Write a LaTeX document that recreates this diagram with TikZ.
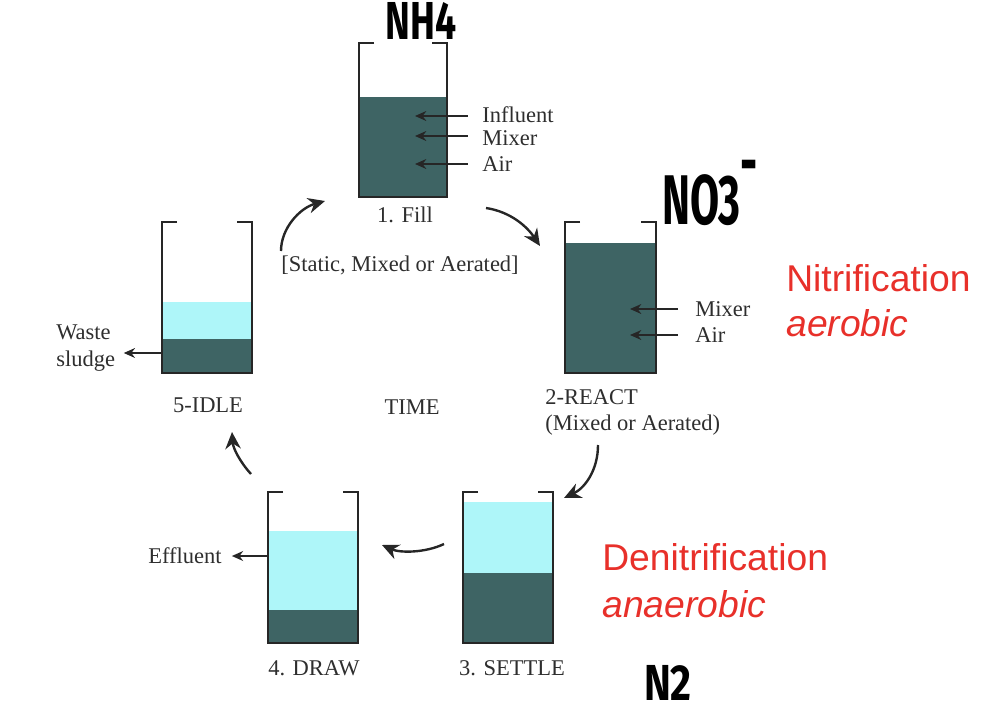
\documentclass[tikz,border=0pt]{standalone}
\usepackage{fontspec}
\setmainfont{Liberation Serif}
\newfontfamily\redsans{Liberation Sans}
\newfontfamily\handsans{Fira Sans}
\usetikzlibrary{arrows.meta}
\definecolor{sludge}{HTML}{3E6464}
\definecolor{clearwater}{HTML}{AEF6F9}
\definecolor{notered}{HTML}{E8302A}
\definecolor{inktext}{HTML}{2E2E2E}

\begin{document}
\begin{tikzpicture}[x=0.025cm, y=-0.025cm,
  wall/.style={line width=1.5pt, draw=black!85, line join=miter},
  feed/.style={-{Stealth[length=8pt,width=7pt]}, line width=1.5pt, black!85},
  turn/.style={-{Stealth[length=12pt,width=11pt]}, line width=1.7pt, black!85},
  lbl/.style={font=\fontsize{16}{19}\selectfont, text=inktext, inner sep=0pt},
  note/.style={font=\redsans\fontsize{26.5}{30}\selectfont, text=notered, anchor=west, inner sep=0pt},
  hand/.style={font=\handsans\bfseries, inner sep=0pt}]
  \useasboundingbox (0,0) rectangle (1006,724);
  % Tank contents
  \fill[sludge] (359,97) rectangle (447,197);
  \fill[sludge] (565,243) rectangle (656,373);
  \fill[clearwater] (463,502) rectangle (553,573);
  \fill[sludge] (463,573) rectangle (553,643);
  \fill[clearwater] (268,531) rectangle (358,610);
  \fill[sludge] (268,610) rectangle (358,643);
  \fill[clearwater] (162,302) rectangle (252,339);
  \fill[sludge] (162,339) rectangle (252,373);
  % Tank walls
  \foreach \l/\r/\t/\b in {359/447/43/197, 565/656/222/373, 463/553/492/643,
                           268/358/492/643, 162/252/222/373} {
    \draw[wall] (\l+15,\t) -- (\l,\t) -- (\l,\b) -- (\r,\b) -- (\r,\t) -- (\r-15,\t);
  }
  % 1. Fill
  \node[lbl, anchor=west] (infl) at (482,115) {Influent};
  \node[lbl, anchor=west] (fmix) at (482,138) {Mixer};
  \node[lbl, anchor=west] (fair) at (482,164) {Air};
  \coordinate (fin1) at (415,116);
  \coordinate (fin2) at (415,136);
  \coordinate (fin3) at (415,164);
  \draw[feed, shorten <=10pt] (infl.west |- fin1) -- (fin1);
  \draw[feed, shorten <=10pt] (fmix.west |- fin2) -- (fin2);
  \draw[feed, shorten <=10pt] (fair.west) -- (fin3);
  \node[lbl] (fillcap) at (405,215) {1. Fill};
  \node[lbl] (fillmode) at (400,265) {[Static, Mixed or Aerated]};
  % 2-React
  \node[lbl, anchor=west] (rmix) at (695,309) {Mixer};
  \node[lbl, anchor=west] (rair) at (695,335) {Air};
  \coordinate (rin1) at (630,309);
  \coordinate (rin2) at (630,335);
  \draw[feed, shorten <=12pt] (rmix.west) -- (rin1);
  \draw[feed, shorten <=12pt] (rair.west) -- (rin2);
  \node[lbl, anchor=west] (reactcap) at (545,397) {2-REACT};
  \node[lbl, anchor=west] (reactmode) at (545,425) {(Mixed or Aerated)};
  % 3. Settle, 4. Draw, 5-Idle
  \node[lbl] (settlecap) at (512,668) {3. SETTLE};
  \node[lbl] (drawcap) at (314,668) {4. DRAW};
  \node[lbl, anchor=east] (effl) at (222,556) {Effluent};
  \coordinate (drawout) at (268,556);
  \draw[feed, shorten >=7pt] (drawout) -- (effl.east);
  \node[lbl] (idlecap) at (208,405) {5-IDLE};
  \node[lbl, anchor=west, align=left] (waste) at (56,348) {Waste\\sludge};
  \coordinate (idleout) at (162,353);
  \draw[feed, shorten >=6pt] (idleout) -- (waste.east |- idleout);
  \node[lbl] (time) at (412,407) {TIME};
  % Cycle arrows
  \coordinate (idlefill-s) at (281,251);
  \coordinate (idlefill-e) at (325,201);
  \coordinate (fillreact-s) at (486,208);
  \coordinate (fillreact-e) at (540,246);
  \coordinate (reactsettle-s) at (598,445);
  \coordinate (reactsettle-e) at (564,498);
  \coordinate (settledraw-s) at (444,544);
  \coordinate (settledraw-e) at (382,545);
  \coordinate (drawidle-s) at (251,474);
  \coordinate (drawidle-e) at (232,432);
  \draw[turn] (idlefill-s) .. controls (281,228) and (300,208) .. (idlefill-e);
  \draw[turn] (fillreact-s) .. controls (512,212) and (528,228) .. (fillreact-e);
  \draw[turn] (reactsettle-s) .. controls (598,470) and (585,488) .. (reactsettle-e);
  \draw[turn] (settledraw-s) .. controls (425,553) and (400,553) .. (settledraw-e);
  \draw[turn] (drawidle-s) .. controls (240,462) and (233,448) .. (drawidle-e);
  % Notes
  \node[note] (nitri) at (786,278) {Nitrification};
  \node[note] (aerob) at (786,323) {\itshape aerobic};
  \node[note] (denitri) at (602,557) {Denitrification};
  \node[note] (anaerob) at (602,604) {\itshape anaerobic};
  \node[hand] (nhfour) at (421,21) {\fontsize{38}{40}\selectfont\scalebox{0.7}[1]{NH4}};
  \node[hand] (nothree) at (710,193) {\fontsize{50}{52}\selectfont\scalebox{0.6}[1]{NO3\raisebox{0.55em}{-}}};
  \node[hand] (ntwo) at (668,683) {\fontsize{36}{38}\selectfont\scalebox{0.8}[1]{N2}};
\end{tikzpicture}
\end{document}
